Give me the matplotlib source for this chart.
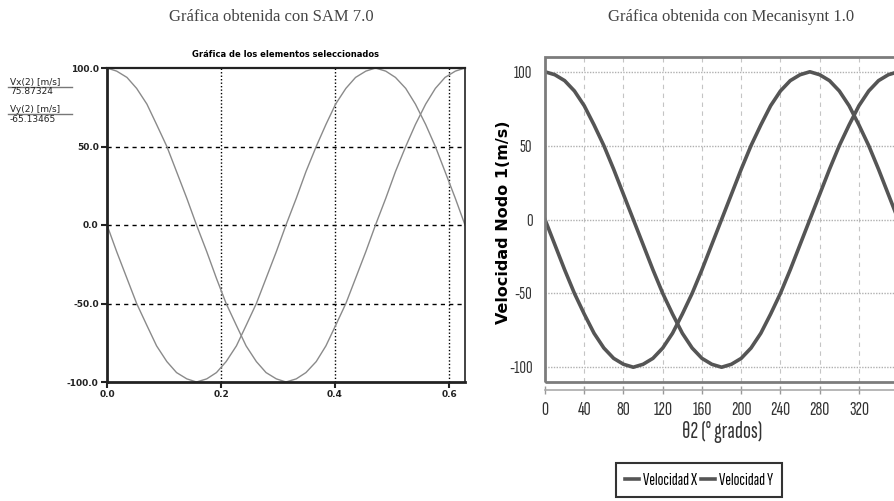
import matplotlib
matplotlib.use("Agg")
import matplotlib.pyplot as plt
from matplotlib.lines import Line2D
from matplotlib.patches import Rectangle

# Crank angle samples (degrees) and the matching time samples (s) for SAM
theta_deg = [0, 10, 20, 30, 40, 50, 60, 70, 80, 90, 100, 110, 120, 130, 140, 150, 160, 170, 180,
             190, 200, 210, 220, 230, 240, 250, 260, 270, 280, 290, 300, 310, 320, 330, 340, 350, 360]
time_s = [0.000, 0.017, 0.035, 0.052, 0.070, 0.087, 0.105, 0.122, 0.140, 0.157, 0.175, 0.192, 0.209,
          0.227, 0.244, 0.262, 0.279, 0.297, 0.314, 0.332, 0.349, 0.367, 0.384, 0.401, 0.419, 0.436,
          0.454, 0.471, 0.489, 0.506, 0.524, 0.541, 0.559, 0.576, 0.593, 0.611, 0.628]

# Node velocities (m/s)
vel_x = [100, 98, 94, 87, 77, 64, 50, 34, 17, 0, -17, -34, -50, -64, -77, -87, -94, -98, -100,
         -98, -94, -87, -77, -64, -50, -34, -17, 0, 17, 34, 50, 64, 77, 87, 94, 98, 100]
vel_y = [0, -17, -34, -50, -64, -77, -87, -94, -98, -100, -98, -94, -87, -77, -64, -50, -34, -17, 0,
         17, 34, 50, 64, 77, 87, 94, 98, 100, 98, 94, 87, 77, 64, 50, 34, 17, 0]

# SAM cursor readout
readout_labels = ["Vx(2) [m/s]", "Vy(2) [m/s]"]
readout_values = ["75.87324", "-65.13465"]

sam_yticks = [-100, -50, 0, 50, 100]
sam_xticks = [0.0, 0.2, 0.4, 0.6]
mec_yticks = [-100, -50, 0, 50, 100]
mec_xticks = [0, 40, 80, 120, 160, 200, 240, 280, 320]

W, H = 894, 501
narrow = ["Sofia Sans Extra Condensed", "Saira ExtraCondensed", "Roboto Condensed", "DejaVu Sans"]

fig = plt.figure(figsize=(W / 100, H / 100), dpi=100)

# ---- left: SAM 7.0 ----
ax1 = fig.add_axes([107 / W, 1 - 382 / H, 358 / W, 314 / H])
for y in sam_yticks[1:-1]:
    ax1.axhline(y, color="k", lw=1, ls=(0, (3, 3)), zorder=1)
for x in sam_xticks[1:]:
    ax1.axvline(x, color="k", lw=1, ls=(0, (1, 1.5)), zorder=1)
ax1.plot(time_s, vel_x, color="#8a8a8a", lw=1, zorder=2)
ax1.plot(time_s, vel_y, color="#8a8a8a", lw=1, zorder=2)
ax1.set_xlim(0, 0.628)
ax1.set_ylim(-100, 100)
ax1.set_xticks(sam_xticks, [f"{v:.1f}" for v in sam_xticks], fontweight="bold")
ax1.set_yticks(sam_yticks, [f"{v:.1f}" for v in sam_yticks], fontweight="bold")
ax1.tick_params(direction="out", length=4, width=1.5, labelsize=6.5, pad=2, colors="#222")
for side, lw in [("left", 2), ("bottom", 2), ("top", 1.6), ("right", 1.2)]:
    ax1.spines[side].set_linewidth(lw)
    ax1.spines[side].set_color("#222")
ax1.set_title("Gráfica de los elementos seleccionados", fontsize=6, fontweight="bold", pad=8)

for i, (lab, val) in enumerate(zip(readout_labels, readout_values)):
    y0 = 82 + 27 * i
    fig.text(10 / W, 1 - y0 / H, lab, fontsize=6.5, va="center", color="#222")
    fig.add_artist(Line2D([8 / W, 72 / W], [1 - (y0 + 4.5) / H] * 2, color="#777", lw=1))
    fig.text(10 / W, 1 - (y0 + 10) / H, val, fontsize=6.5, va="center", color="#222")

# ---- right: Mecanisynt 1.0 ----
px_deg = 0.981
ax2 = fig.add_axes([545 / W, 1 - 382 / H, 362 * px_deg / W, 325 / H])
# detached x axis line below the frame (moving the spine resets ticks, so do it first)
for side in ["top", "right", "left"]:
    ax2.spines[side].set_visible(False)
ax2.spines["bottom"].set_position(("outward", 6))
ax2.spines["bottom"].set_color("#aaa")
ax2.spines["bottom"].set_linewidth(1.2)

for x in mec_xticks[1:]:
    ax2.axvline(x, color="#c4c4c4", lw=0.8, ls=(0, (4, 4)), zorder=1)
for y in mec_yticks:
    ax2.axhline(y, color="#b0b0b0", lw=1, ls=(0, (1, 1)), zorder=1)
ax2.plot(theta_deg, vel_x, color="#555555", lw=2.6, zorder=3, label="Velocidad X")
ax2.plot(theta_deg, vel_y, color="#555555", lw=2.6, zorder=3, label="Velocidad Y")
ax2.set_xlim(0, 362)
ax2.set_ylim(-110, 110)
ax2.set_xticks(mec_xticks, [str(v) for v in mec_xticks], family=narrow, fontsize=14)
ax2.set_yticks(mec_yticks, [str(v) for v in mec_yticks], family=narrow, fontsize=13)
ax2.tick_params(axis="x", direction="inout", length=6, width=1, colors="#999",
                labelcolor="#333", pad=5)
ax2.tick_params(axis="y", length=0, pad=9, labelcolor="#333")
ax2.add_patch(Rectangle((0, 0), 1, 1, transform=ax2.transAxes, fill=False,
                        edgecolor="#7c7c7c", lw=2, clip_on=False, zorder=4))

fig.text(504 / W, 1 - 222 / H, "Velocidad Nodo 1(m/s)", rotation=90, fontsize=11.5,
         fontweight="bold", ha="center", va="center")
fig.text(722 / W, 1 - 432 / H, "θ2 (° grados)", family=narrow, fontsize=17,
         ha="center", va="center", color="#333")

handles = [Line2D([], [], color="#555555", lw=2.6) for _ in range(2)]
leg = fig.legend(handles, ["Velocidad X", "Velocidad Y"], loc="upper center",
                 bbox_to_anchor=(699 / W, 1 - 463 / H), ncol=2, frameon=True,
                 fancybox=False, edgecolor="k", handlelength=0.8, handletextpad=0.2,
                 columnspacing=0.25, borderpad=0.55, borderaxespad=0,
                 prop={"family": narrow, "size": 12.5})
leg.get_frame().set_linewidth(1.5)

# ---- captions ----
fig.text(271 / W, 1 - 17 / H, "Gráfica obtenida con SAM 7.0", family="Liberation Serif",
         fontsize=12, color="#444", ha="center", va="center")
fig.text(731 / W, 1 - 17 / H, "Gráfica obtenida con Mecanisynt 1.0", family="Liberation Serif",
         fontsize=12, color="#444", ha="center", va="center")

fig.savefig("out.png", dpi=100, facecolor="white")
